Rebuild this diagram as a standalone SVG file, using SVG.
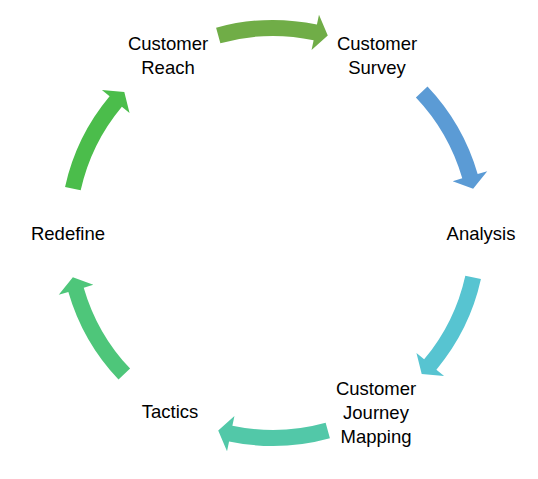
<svg xmlns="http://www.w3.org/2000/svg" xmlns:xlink="http://www.w3.org/1999/xlink" width="538" height="479" viewBox="0 0 538 479">
<style>
text{font-family:"Liberation Sans",Arial,sans-serif;font-size:18.5px;fill:#000;text-anchor:middle}
</style>
<defs>
<path id="arc" d="M 216.09 27.75 A 213 213 0 0 1 316.92 24.58 L 318.98 14.79 L 327.78 35.46 L 311.56 50.02 L 313.62 40.24 A 197 197 0 0 0 220.36 43.17 Z"/>
</defs>
<rect width="538" height="479" fill="#fff"/>
<g id="connectors">
<use xlink:href="#arc" fill="#70AD47"/>
<use xlink:href="#arc" fill="#5B9BD5" transform="rotate(62 273 233)"/>
<use xlink:href="#arc" fill="#57C4D1" transform="rotate(118 273 233)"/>
<use xlink:href="#arc" fill="#52C8A8" transform="rotate(180 273 233)"/>
<use xlink:href="#arc" fill="#4EC67A" transform="rotate(242 273 233)"/>
<use xlink:href="#arc" fill="#4BBD4B" transform="rotate(298 273 233)"/>
</g>
<g id="customer-reach"><text x="168" y="50">Customer</text><text x="168" y="74">Reach</text></g>
<g id="customer-survey"><text x="377" y="50">Customer</text><text x="377" y="74">Survey</text></g>
<g id="analysis"><text x="481" y="240">Analysis</text></g>
<g id="customer-journey-mapping"><text x="376" y="395">Customer</text><text x="376" y="419">Journey</text><text x="376" y="443">Mapping</text></g>
<g id="tactics"><text x="170" y="418">Tactics</text></g>
<g id="redefine"><text x="68" y="240">Redefine</text></g>
</svg>
